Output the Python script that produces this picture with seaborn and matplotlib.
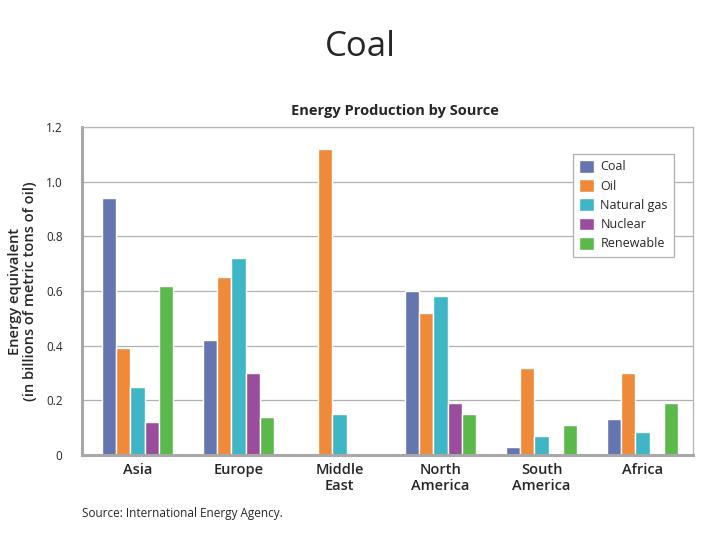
import pandas as pd
import seaborn as sns
import matplotlib.pyplot as plt

regions = ["Asia", "Europe", "Middle\nEast", "North\nAmerica", "South\nAmerica", "Africa"]
sources = ["Coal", "Oil", "Natural gas", "Nuclear", "Renewable"]
coal = [0.94, 0.42, 0.0, 0.60, 0.03, 0.13]
oil = [0.39, 0.65, 1.12, 0.52, 0.32, 0.30]
natural_gas = [0.25, 0.72, 0.15, 0.58, 0.07, 0.085]
nuclear = [0.12, 0.30, 0.0, 0.19, 0.004, 0.004]
renewable = [0.62, 0.14, 0.006, 0.15, 0.11, 0.19]
colors = ["#6475b0", "#ef8a3a", "#3fb6c6", "#994d9c", "#5bb94b"]


def main() -> None:
    sns.set_style("white")
    plt.rcParams["font.family"] = ["Open Sans", "DejaVu Sans"]

    values = [coal, oil, natural_gas, nuclear, renewable]
    rows = []
    for src, vals in zip(sources, values):
        for reg, v in zip(regions, vals):
            rows.append({"region": reg, "source": src, "value": v})
    df = pd.DataFrame(rows)

    fig = plt.figure(figsize=(7.2, 5.4), dpi=100)
    ax = fig.add_axes([82 / 720, 1 - 455 / 540, 611 / 720, 328 / 540])

    sns.barplot(
        data=df,
        x="region",
        y="value",
        hue="source",
        hue_order=sources,
        palette=colors,
        width=0.7,
        gap=0,
        saturation=1,
        ax=ax,
    )

    ax.set_ylim(0, 1.2)
    ax.set_xlim(-0.55, 5.5)
    ax.set_yticks([0, 0.2, 0.4, 0.6, 0.8, 1.0, 1.2])
    ax.set_yticklabels(["0", "0.2", "0.4", "0.6", "0.8", "1.0", "1.2"], fontsize=8.5)
    ax.tick_params(axis="x", labelsize=10.5, length=0, pad=6)
    ax.tick_params(axis="y", length=0, pad=14)
    for lbl in ax.get_xticklabels():
        lbl.set_fontweight("semibold")
        lbl.set_linespacing(1.15)
    ax.yaxis.grid(True, color="#b0b0b0", linewidth=0.9)
    ax.set_axisbelow(True)
    for side in ["top", "right"]:
        ax.spines[side].set_color("#b5b5b5")
        ax.spines[side].set_linewidth(0.9)
    for side in ["left", "bottom"]:
        ax.spines[side].set_color("#a8a8a8")
        ax.spines[side].set_linewidth(2.2)

    ax.set_xlabel("")
    ax.set_ylabel("Energy equivalent\n(in billions of metric tons of oil)",
                  fontsize=10.5, fontweight="semibold", linespacing=1.1, labelpad=6)

    leg = ax.legend(loc="upper right", bbox_to_anchor=(0.979, 0.938), fontsize=9,
                    frameon=True, fancybox=False, framealpha=1,
                    edgecolor="#b0b0b0", handlelength=1.2, handleheight=1.2,
                    handletextpad=0.5, labelspacing=0.45, borderpad=0.5)
    leg.get_frame().set_linewidth(0.9)

    fig.text(0.5, 1 - 47 / 540, "Coal", ha="center", va="center", fontsize=25)
    fig.text(395 / 720, 1 - 111 / 540, "Energy Production by Source",
             ha="center", va="center", fontsize=10.5, fontweight="bold")
    fig.text(82 / 720, 1 - 514 / 540, "Source: International Energy Agency.",
             ha="left", va="center", fontsize=8.5)

    fig.savefig("out.png", dpi=100)


if __name__ == "__main__":
    main()
